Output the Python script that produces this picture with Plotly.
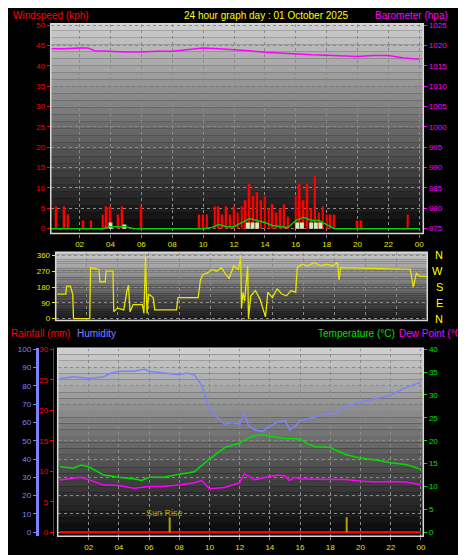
import plotly.graph_objects as go

# ---- data ----
hours_ticks = [2, 4, 6, 8, 10, 12, 14, 16, 18, 20, 22, 24]
tick_text = ['02', '04', '06', '08', '10', '12', '14', '16', '18', '20', '22', '00']

gust_t = [i * 0.25 for i in range(97)]
gust = [0, 0, 5.5, 0,  5.5, 3.5, 0, 0,  0, 2, 0, 2,  0, 0, 3.5, 5.5,
        5.5, 0, 3.5, 5.5,  0, 0, 0, 0,  5.5, 0, 0, 0,  0, 0, 0, 0,
        0, 0, 0, 0,  0, 0, 0, 3.5,  3.5, 3.5, 0, 5.5,  5.5, 3.5, 5.5, 3.5,
        5.5, 4, 5.5, 7,  11, 8, 9, 7,  8, 5, 6, 4,  5, 6, 3, 0,
        8, 11, 7, 11,  5, 13, 4, 5.5,  3.5, 3.5, 3.5, 0,  0, 0, 0, 0,
        2, 2, 0, 0,  0, 0, 0, 0,  0, 0, 0, 0,  0, 3.5, 0, 0,  0]

avg_t = [i * 0.5 for i in range(49)]
avg = [0, 0, 0, 0, 0, 0, 0, 0, 0.5, 0.5, 0.5, 0, 0, 0, 0, 0, 0, 0, 0, 0,
       0, 0.2, 1, 0.5, 0.5, 1.5, 2.5, 2, 1.5, 0.8, 0.5, 0.3, 2, 2.8, 2, 2,
       1, 0, 0, 0, 0, 0, 0, 0, 0, 0, 0, 0, 0]

calm_t = [4.0, 4.9, 12.9, 13.2, 13.5, 16.1, 16.4, 17.0, 17.3, 17.6]
calm = [1.5, 1.0, 1.5, 1.5, 1.5, 1.5, 1.5, 1.5, 1.5, 1.5]

baro_t = [0.1, 1, 2, 2.5, 3, 4, 5, 6, 7, 8, 9, 10, 11, 12, 13, 14, 15, 16, 17, 18, 19, 20, 21, 22, 23, 24]
baro = [1019.2, 1019.2, 1019.4, 1019.4, 1018.7, 1018.5, 1018.4, 1018.4, 1018.6, 1018.6, 1019.0, 1019.4,
        1019.2, 1019.0, 1018.7, 1018.3, 1018.1, 1017.8, 1017.7, 1017.6, 1017.4, 1017.3, 1017.5, 1017.5,
        1016.9, 1016.6]

dir_t = [0.1, 0.65, 0.7, 0.95, 1.1, 1.15, 2.2, 2.25, 2.8, 2.85, 3.2, 3.25, 3.7, 3.75, 4.0, 4.4, 4.6, 4.7,
         4.8, 5.0, 5.6, 5.7, 5.8, 5.9, 6.0, 6.3, 6.4, 7.8, 7.9, 9.2, 9.35, 9.5, 9.8, 10.1, 10.4, 10.7,
         11.0, 11.2, 11.5, 11.8, 11.95, 12.0, 12.1, 12.2, 12.4, 12.45, 12.6, 12.9, 13.2, 13.55, 13.7,
         14.0, 14.3, 14.6, 14.9, 15.2, 15.5, 15.6, 15.9, 16.3, 16.7, 17.1, 17.5, 17.9, 18.2, 18.3, 18.4,
         22.9, 23.0, 23.1, 23.3, 23.5, 24.0]
wdir = [140, 140, 185, 185, 140, 0, 0, 290, 280, 210, 210, 270, 270, 40, 60, 50, 160, 190,
        40, 80, 80, 30, 350, 30, 140, 120, 50, 50, 120, 120, 220, 250, 260, 280, 270, 290,
        250, 230, 300, 280, 350, 60, 150, 100, 300, 0, 130, 160, 110, 10, 150,
        120, 170, 140, 130, 160, 150, 290, 310, 300, 320, 300, 310, 300, 320, 220, 290,
        280, 230, 180, 260, 240, 240]

hum_t = [0.1, 1, 1.5, 2, 3, 3.5, 4, 5, 5.7, 6, 7, 8, 8.5, 9, 9.5, 10, 10.5, 11, 11.5, 12, 12.3, 12.6,
         13, 13.5, 14, 14.5, 15, 15.3, 15.7, 16, 17, 18, 18.5, 19, 20, 21, 22, 23, 24]
hum = [84, 85, 84.5, 84, 85, 87, 88, 88, 89, 88, 87, 86, 87, 86, 80, 67, 63, 59, 60, 59, 65, 58,
       56, 55, 58, 60, 61, 56, 58, 61, 63, 65, 65, 69, 71, 73, 75, 79, 82]

temp_t = [0.1, 1, 1.5, 2, 3, 4, 5, 5.5, 6, 7, 8, 9, 10, 11, 12, 12.5, 13, 13.5, 14, 15, 16, 16.5,
          17, 18, 19, 20, 21, 22, 23, 24]
temp = [14.3, 14, 14.7, 14.3, 12.5, 12, 11.7, 11.3, 12, 12, 12.7, 13.2, 16, 18.5, 19.5, 20.5, 21.1,
        21.3, 21, 20.5, 20.4, 19.3, 18.7, 18.5, 17, 16.2, 15.8, 15.2, 14.8, 13.8]

dew_t = [0.1, 1, 1.5, 2, 3, 4, 5, 6, 7, 8, 9, 9.5, 10, 11, 12, 12.3, 12.6, 13, 14, 14.5, 15, 15.3,
         15.6, 16, 17, 18, 19, 20, 21, 22, 23, 24]
dew = [11.4, 11.8, 12, 11.5, 10.3, 10.2, 9.6, 10, 10, 10.3, 10.8, 11.3, 9.5, 9.8, 10.8, 12.8, 12.2,
       11.5, 12.2, 12.5, 12.3, 11.3, 12, 11.7, 11.6, 11.5, 11.5, 11.2, 11.0, 11.1, 11.0, 10.4]

rain_t = [0.1, 24]
rain = [0, 0]

sun_t = [7.35, 19.1]
sun_h = [3.3, 3.3]

W, H = 466, 555
FONT = 'Liberation Sans'


def px_x(p):
    return p / W


def px_y(p):
    return 1 - p / H


# panel domains (pixel boxes)
p1 = dict(x=[px_x(43), px_x(418)], y=[px_y(225), px_y(13)])
p2 = dict(x=[px_x(48), px_x(422)], y=[px_y(313), px_y(244)])
p3 = dict(x=[px_x(50), px_x(418)], y=[px_y(531), px_y(341)])

fig = go.Figure()

# panel 1: wind + barometer
fig.add_trace(go.Bar(x=gust_t, y=gust, width=0.12, marker=dict(color='#ff0000', line=dict(width=0)),
                     xaxis='x', yaxis='y'))
fig.add_trace(go.Bar(x=calm_t, y=calm, width=0.25, marker=dict(color='#c8f0c0', line=dict(width=0)),
                     xaxis='x', yaxis='y'))
fig.add_trace(go.Scatter(x=avg_t, y=avg, mode='lines', line=dict(color='#00d000', width=1.5),
                         xaxis='x', yaxis='y'))
fig.add_trace(go.Scatter(x=baro_t, y=baro, mode='lines', line=dict(color='#ff00ff', width=1.5),
                         xaxis='x', yaxis='y2'))

# panel 2: wind direction
fig.add_trace(go.Scatter(x=dir_t, y=wdir, mode='lines', line=dict(color='#e6e600', width=1.3),
                         xaxis='x2', yaxis='y3'))

# panel 3: humidity, rain, temp, dew
fig.add_trace(go.Scatter(x=hum_t, y=hum, mode='lines', line=dict(color='#8080ff', width=1.5),
                         xaxis='x3', yaxis='y4'))
fig.add_trace(go.Scatter(x=rain_t, y=rain, mode='lines', line=dict(color='#ff0000', width=2.5),
                         xaxis='x3', yaxis='y5'))
fig.add_trace(go.Scatter(x=temp_t, y=temp, mode='lines', line=dict(color='#00e000', width=1.5),
                         xaxis='x3', yaxis='y6'))
fig.add_trace(go.Scatter(x=dew_t, y=dew, mode='lines', line=dict(color='#ff00ff', width=1.5),
                         xaxis='x3', yaxis='y6'))
fig.add_trace(go.Bar(x=sun_t, y=sun_h, width=0.08, marker=dict(color='#b0a000', line=dict(width=0)),
                     xaxis='x3', yaxis='y6'))

grid = dict(showgrid=True, gridcolor='#8a8a8a', griddash='dot', gridwidth=1, zeroline=False)
tickf = dict(family=FONT, size=8)

fig.update_layout(
    width=W, height=H, margin=dict(l=0, r=0, t=0, b=0),
    paper_bgcolor='black', plot_bgcolor='rgba(0,0,0,0)',
    showlegend=False, barmode='overlay', font=dict(family=FONT),
    xaxis=dict(domain=p1['x'], anchor='y', range=[0.13, 24.26], tickvals=hours_ticks, ticktext=tick_text,
               tickfont=dict(tickf, color='#e6e600'), ticks='outside', ticklen=3, tickcolor='#808080',
               **grid),
    yaxis=dict(domain=p1['y'], anchor='x', range=[-1.2, 50.3], dtick=5, tickfont=dict(tickf, color='#ff0000'),
               ticks='outside', ticklen=3, tickcolor='#ff0000', **grid),
    yaxis2=dict(overlaying='y', side='right', anchor='x', range=[973.8, 1025.3], dtick=5,
                tickfont=dict(tickf, color='#ff00ff'), ticks='outside', ticklen=3, tickcolor='#ff00ff',
                showgrid=False, zeroline=False),
    xaxis2=dict(domain=p2['x'], anchor='y3', range=[0, 24], dtick=2, showticklabels=False, **grid),
    yaxis3=dict(domain=p2['y'], anchor='x2', range=[-11, 377], tickvals=[0, 90, 180, 270, 360],
                tickfont=dict(tickf, color='#e6e600'), ticks='outside', ticklen=3, tickcolor='#e6e600',
                **grid),
    xaxis3=dict(domain=p3['x'], anchor='y4', range=[-0.05, 24.16], tickvals=hours_ticks, ticktext=tick_text,
                tickfont=dict(tickf, color='#e6e600'), ticks='outside', ticklen=3, tickcolor='#808080',
                **grid),
    yaxis4=dict(domain=p3['y'], anchor='free', position=px_x(29), range=[-2.2, 100.5], dtick=10,
                tickfont=dict(tickf, color='#8080ff'), ticks='outside', ticklen=3, tickcolor='#8080ff',
                showline=True, linecolor='#8080ff', linewidth=3, **grid),
    yaxis5=dict(overlaying='y4', anchor='free', position=px_x(45), range=[-0.66, 30.15], dtick=5,
                tickfont=dict(tickf, color='#ff0000'), ticks='outside', ticklen=3, tickcolor='#ff0000',
                showline=True, linecolor='#ff0000', linewidth=1, showgrid=False, zeroline=False),
    yaxis6=dict(overlaying='y4', side='right', anchor='x3', range=[-0.88, 40.2], dtick=5,
                tickfont=dict(tickf, color='#00e000'), ticks='outside', ticklen=3, tickcolor='#00e000',
                showgrid=False, zeroline=False),
)

# gradient backgrounds (stacked bands below the grid) and light frames
for box, top, bot in [(p1, 205, 8), (p2, 200, 25), (p3, 205, 8)]:
    n = 30
    y0, y1 = box['y']
    for i in range(n):
        f = i / (n - 1)
        c = int(bot + (top - bot) * f)
        fig.add_shape(type='rect', xref='paper', yref='paper', layer='below',
                      x0=box['x'][0], x1=box['x'][1],
                      y0=y0 + (y1 - y0) * i / n, y1=y0 + (y1 - y0) * (i + 1) / n,
                      fillcolor=f'rgb({c},{c},{c})', line=dict(width=0))
    fig.add_shape(type='rect', xref='paper', yref='paper', x0=box['x'][0], x1=box['x'][1],
                  y0=y0, y1=y1, line=dict(color='#d8d8d8', width=1.5))

ann = [
    ('Windspeed (kph)', 3, 5, '#ff0000', 'left'),
    ('24 hour graph day : 01 October 2025', 260, 5, '#ffff00', 'center'),
    ('Barometer (hpa)', 445, 5, '#ff00ff', 'right'),
    ('Rainfall (mm)', 1, 326, '#ff0000', 'left'),
    ('Humidity', 67, 326, '#8080ff', 'left'),
    ('Temperature (°C)', 392, 326, '#00e000', 'right'),
    ('Dew Point (°C)', 462, 326, '#ff00ff', 'right'),
]
for text, x, y, col, al in ann:
    fig.add_annotation(text=text, x=px_x(x), y=px_y(y), xref='paper', yref='paper', xanchor=al,
                       yanchor='middle', showarrow=False, font=dict(family=FONT, size=10, color=col))

for lab, deg in zip(['N', 'W', 'S', 'E', 'N'], [360, 270, 180, 90, 0]):
    fig.add_annotation(text=lab, x=px_x(440), y=deg, xref='paper', yref='y3', showarrow=False,
                       font=dict(family=FONT, size=11, color='#ffff00'))

fig.add_annotation(text='Sun Rise', x=7.0, y=4.3, xref='x3', yref='y6', showarrow=False,
                   font=dict(family=FONT, size=9, color='#b0a000'))

fig.write_html("out.html")
